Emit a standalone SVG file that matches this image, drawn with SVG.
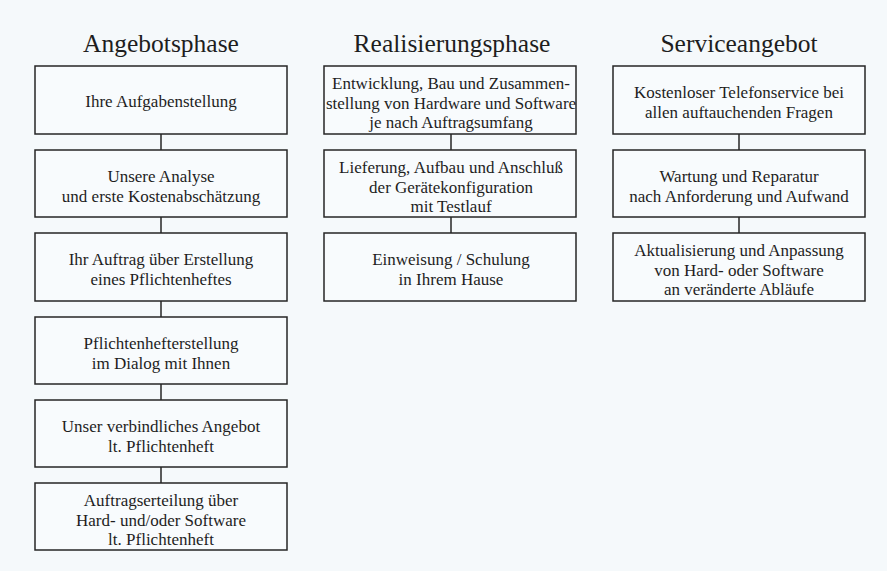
<svg xmlns="http://www.w3.org/2000/svg" width="887" height="571" viewBox="0 0 887 571">
<style>
.bg{fill:#f5f9fb}
.box{fill:#f8fbfd;stroke:#262626;stroke-width:1.5}
.ln{stroke:#262626;stroke-width:1.5;fill:none}
.t{font-family:"Liberation Serif","Times New Roman",serif;font-size:17px;fill:#1e1e1e;text-anchor:middle}
.h{font-family:"Liberation Serif","Times New Roman",serif;font-size:25.5px;fill:#1e1e1e;text-anchor:middle}
</style>
<rect class="bg" x="0" y="0" width="887" height="571"/>
<g id="titles">
<text class="h" x="161" y="52">Angebotsphase</text>
<text class="h" x="452" y="52">Realisierungsphase</text>
<text class="h" x="739" y="52">Serviceangebot</text>
</g>
<g id="connectors">
<line class="ln" x1="161" y1="134" x2="161" y2="150"/>
<line class="ln" x1="161" y1="217" x2="161" y2="233"/>
<line class="ln" x1="161" y1="301" x2="161" y2="317"/>
<line class="ln" x1="161" y1="384" x2="161" y2="400"/>
<line class="ln" x1="161" y1="467" x2="161" y2="483"/>
<line class="ln" x1="451" y1="134" x2="451" y2="150"/>
<line class="ln" x1="451" y1="217" x2="451" y2="233"/>
<line class="ln" x1="739" y1="134" x2="739" y2="150"/>
<line class="ln" x1="739" y1="217" x2="739" y2="233"/>
</g>
<g id="a1"><rect class="box" x="35" y="66" width="252" height="68"/>
<text class="t" x="161" y="107">Ihre Aufgabenstellung</text></g>
<g id="a2"><rect class="box" x="35" y="150" width="252" height="67"/>
<text class="t" x="161" y="182">Unsere Analyse</text><text class="t" x="161" y="202">und erste Kostenabschätzung</text></g>
<g id="a3"><rect class="box" x="35" y="233" width="252" height="68"/>
<text class="t" x="161" y="265">Ihr Auftrag über Erstellung</text><text class="t" x="161" y="285">eines Pflichtenheftes</text></g>
<g id="a4"><rect class="box" x="35" y="317" width="252" height="67"/>
<text class="t" x="161" y="349">Pflichtenhefterstellung</text><text class="t" x="161" y="369">im Dialog mit Ihnen</text></g>
<g id="a5"><rect class="box" x="35" y="400" width="252" height="67"/>
<text class="t" x="161" y="432">Unser verbindliches Angebot</text><text class="t" x="161" y="452">lt. Pflichtenheft</text></g>
<g id="a6"><rect class="box" x="35" y="483" width="252" height="67"/>
<text class="t" x="161" y="506">Auftragserteilung über</text><text class="t" x="161" y="526">Hard- und/oder Software</text><text class="t" x="161" y="545">lt. Pflichtenheft</text></g>
<g id="r1"><rect class="box" x="324" y="66" width="252" height="68"/>
<text class="t" x="451" y="89">Entwicklung, Bau und Zusammen-</text><text class="t" x="451" y="109">stellung von Hardware und Software</text><text class="t" x="451" y="128">je nach Auftragsumfang</text></g>
<g id="r2"><rect class="box" x="324" y="150" width="252" height="67"/>
<text class="t" x="451" y="173">Lieferung, Aufbau und Anschluß</text><text class="t" x="451" y="193">der Gerätekonfiguration</text><text class="t" x="451" y="212">mit Testlauf</text></g>
<g id="r3"><rect class="box" x="324" y="233" width="252" height="68"/>
<text class="t" x="451" y="265">Einweisung / Schulung</text><text class="t" x="451" y="285">in Ihrem Hause</text></g>
<g id="s1"><rect class="box" x="613" y="66" width="252" height="68"/>
<text class="t" x="739" y="98">Kostenloser Telefonservice bei</text><text class="t" x="739" y="118">allen auftauchenden Fragen</text></g>
<g id="s2"><rect class="box" x="613" y="150" width="252" height="67"/>
<text class="t" x="739" y="182">Wartung und Reparatur</text><text class="t" x="739" y="202">nach Anforderung und Aufwand</text></g>
<g id="s3"><rect class="box" x="613" y="233" width="252" height="68"/>
<text class="t" x="739" y="256">Aktualisierung und Anpassung</text><text class="t" x="739" y="276">von Hard- oder Software</text><text class="t" x="739" y="295">an veränderte Abläufe</text></g>
</svg>
